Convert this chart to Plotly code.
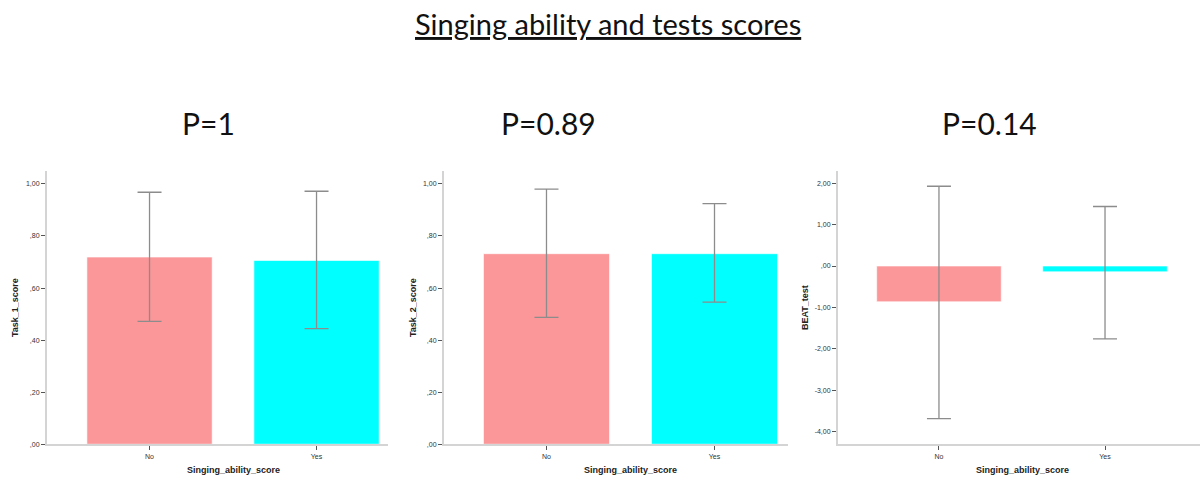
import plotly.graph_objects as go

categories = ["No", "Yes"]
task1_mean = [0.719, 0.706]
task1_hi = [0.968, 0.972]
task1_lo = [0.472, 0.444]
task2_mean = [0.732, 0.732]
task2_hi = [0.980, 0.924]
task2_lo = [0.487, 0.546]
beat_mean = [-0.865, -0.14]
beat_hi = [1.93, 1.44]
beat_lo = [-3.69, -1.76]
p_labels = ["P=1", "P=0.89", "P=0.14"]
y_titles = ["Task_1_score", "Task_2_score", "BEAT_test"]
x_title = "Singing_ability_score"
t1_ticks = [0, 0.2, 0.4, 0.6, 0.8, 1.0]
t1_text = [",00", ",20", ",40", ",60", ",80", "1,00"]
beat_ticks = [-4, -3, -2, -1, 0, 1, 2]
beat_text = ["-4,00", "-3,00", "-2,00", "-1,00", ",00", "1,00", "2,00"]

colors = ["#FB9699", "#00FFFF"]
W, H = 1201, 481


def px(x):
    return x / W


def py(y):
    return 1 - y / H


panels = [
    dict(mean=task1_mean, hi=task1_hi, lo=task1_lo, x0=47, x1=388, xr=[-0.614, 1.428],
         yr=[0, 1.05], tv=t1_ticks, tt=t1_text, ytx=15, xtx=233, px=208),
    dict(mean=task2_mean, hi=task2_hi, lo=task2_lo, x0=444, x1=788, xr=[-0.61, 1.4375],
         yr=[0, 1.05], tv=t1_ticks, tt=t1_text, ytx=413, xtx=630, px=548),
    dict(mean=beat_mean, hi=beat_hi, lo=beat_lo, x0=838, x1=1200, xr=[-0.608, 1.572],
         yr=[-4.31, 2.30], tv=beat_ticks, tt=beat_text, ytx=805, xtx=1022, px=990),
]

fig = go.Figure()
ytop, ybot = 172, 447
ydom = [py(ybot), py(ytop)]
annotations = []
for i, p in enumerate(panels):
    n = "" if i == 0 else str(i + 1)
    fig.add_trace(go.Bar(
        x=categories, y=p["mean"], xaxis="x" + n, yaxis="y" + n,
        marker=dict(color=colors, line=dict(color="rgba(255,255,255,0.6)", width=1)),
        width=0.75,
        error_y=dict(type="data", symmetric=False,
                     array=[h - m for h, m in zip(p["hi"], p["mean"])],
                     arrayminus=[m - l for m, l in zip(p["mean"], p["lo"])],
                     color="#8c8c8c", thickness=1.3, width=12),
        showlegend=False,
    ))
    axis_common = dict(showline=True, linecolor="#d4d4d4", linewidth=2, showgrid=False,
                       zeroline=False, ticks="outside", tickcolor="#555", ticklen=4,
                       tickfont=dict(family="Arial", size=7, color="#333"))
    fig.update_layout(**{
        "xaxis" + n: dict(domain=[px(p["x0"]), min(px(p["x1"]), 1)], range=p["xr"], anchor="y" + n,
                          type="category", **axis_common),
        "yaxis" + n: dict(domain=ydom, range=p["yr"], anchor="x" + n, tickvals=p["tv"],
                          ticktext=p["tt"], **axis_common),
    })
    annotations.append(dict(text="<b>" + x_title + "</b>", x=px(p["xtx"]), y=py(473),
                            xref="paper", yref="paper", showarrow=False,
                            xanchor="center", yanchor="middle",
                            font=dict(family="Arial", size=9, color="#222")))
    annotations.append(dict(text="<b>" + y_titles[i] + "</b>", x=px(p["ytx"]), y=py(310),
                            xref="paper", yref="paper", showarrow=False, textangle=-90,
                            xanchor="center", yanchor="middle",
                            font=dict(family="Arial", size=9, color="#222")))
    annotations.append(dict(text=p_labels[i], x=px(p["px"]), y=py(124),
                            xref="paper", yref="paper", showarrow=False,
                            xanchor="center", yanchor="middle",
                            font=dict(family="Lato", size=30, color="#111")))

annotations.append(dict(text="<u>Singing ability and tests scores</u>", x=px(608), y=py(24),
                        xref="paper", yref="paper", showarrow=False,
                        xanchor="center", yanchor="middle",
                        font=dict(family="Lato", size=29, color="#111")))

fig.update_layout(width=W, height=H, margin=dict(l=0, r=0, t=0, b=0),
                  paper_bgcolor="white", plot_bgcolor="white",
                  annotations=annotations, bargap=0.25)
fig.write_html("out.html", config={"displayModeBar": False},
               post_script="document.body.style.margin='0';document.body.style.overflow='hidden';")
